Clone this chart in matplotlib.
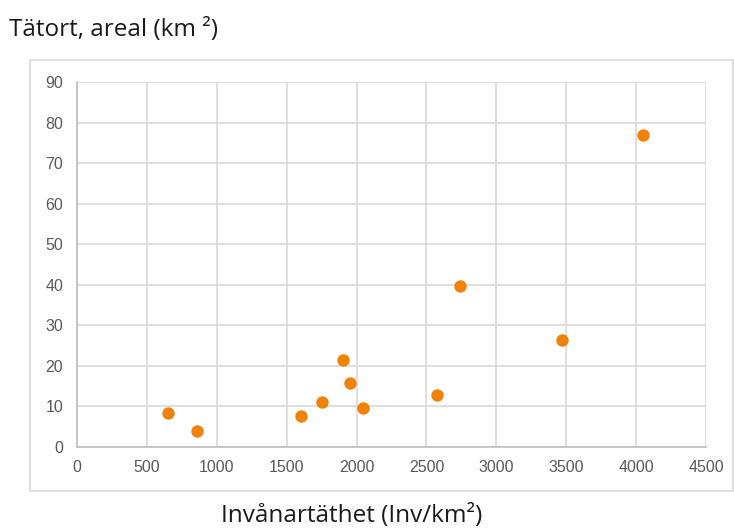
import matplotlib
matplotlib.use("Agg")
import matplotlib.pyplot as plt
from matplotlib.patches import Rectangle

# Invånartäthet (Inv/km2) and tätortsareal (km2)
density = [648, 860, 1604, 1754, 1906, 1952, 2045, 2579, 2741, 3468, 4052]
area = [8.3, 3.9, 7.6, 11.2, 21.5, 15.7, 9.5, 12.8, 39.7, 26.3, 77.0]

x_ticks = [0, 500, 1000, 1500, 2000, 2500, 3000, 3500, 4000, 4500]
y_ticks = [0, 10, 20, 30, 40, 50, 60, 70, 80, 90]

title = "Tätort, areal (km ²)"
xlabel = "Invånartäthet (Inv/km²)"

fig = plt.figure(figsize=(7.34, 5.30), dpi=100)

# chart area frame (light grey box)
fig.patches.append(Rectangle((30 / 734, 39 / 530), 703 / 734, 431 / 530,
                             transform=fig.transFigure, fill=False,
                             edgecolor="#D9D9D9", linewidth=1.2))

ax = fig.add_axes([77 / 734, 83 / 530, 629 / 734, 365 / 530])
ax.scatter(density, area, s=80, color="#F0820A", zorder=3, linewidths=0)

ax.set_xlim(0, 4500)
ax.set_ylim(0, 90)
ax.set_xticks(x_ticks)
ax.set_yticks(y_ticks)
ax.grid(True, color="#D9D9D9", linewidth=1.2)
ax.set_axisbelow(True)

for side in ["top", "right"]:
    ax.spines[side].set_visible(False)
for side in ["left", "bottom"]:
    ax.spines[side].set_color("#BFBFBF")
    ax.spines[side].set_linewidth(1.2)

ax.tick_params(length=0, labelsize=11.5, labelcolor="#595959")
ax.tick_params(axis="x", pad=9)
ax.tick_params(axis="y", pad=10)
for lab in ax.get_xticklabels() + ax.get_yticklabels():
    lab.set_fontfamily("Liberation Sans")

fig.text(9 / 734, 1 - 30 / 530, title, fontsize=17.5, family="Open Sans",
         color="#1A1A1A", va="center", ha="left")
fig.text(352 / 734, 1 - 516 / 530, xlabel, fontsize=17.5, family="Open Sans",
         color="#1A1A1A", va="center", ha="center")

fig.savefig("out.png", dpi=100)
